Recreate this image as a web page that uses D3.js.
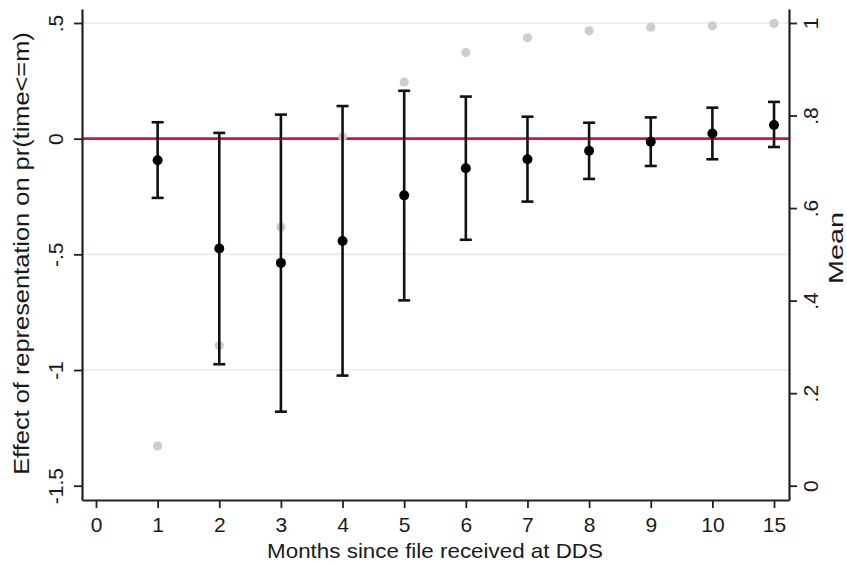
<!DOCTYPE html>
<html>
<head>
<meta charset="utf-8">
<script src="https://cdn.jsdelivr.net/npm/d3@7"></script>
<style>
  html, body { margin: 0; padding: 0; background: #fff; }
  svg { display: block; font-family: "Liberation Sans", Arial, Helvetica, sans-serif; }
</style>
</head>
<body>
<svg id="chart" width="847" height="565"></svg>
<script>
// ---- data ----
const monthLabels = ["0", "1", "2", "3", "4", "5", "6", "7", "8", "9", "10", "15"];
const months      = ["1", "2", "3", "4", "5", "6", "7", "8", "9", "10", "15"];
const estimate    = [-0.093, -0.475, -0.537, -0.442, -0.245, -0.128, -0.089, -0.052, -0.013, 0.022, 0.059];
const upperCI     = [0.071, 0.025, 0.104, 0.141, 0.207, 0.182, 0.095, 0.069, 0.092, 0.134, 0.159];
const lowerCI     = [-0.256, -0.975, -1.180, -1.024, -0.699, -0.437, -0.272, -0.174, -0.118, -0.089, -0.036];
const meanValue   = [0.086, 0.303, 0.559, 0.754, 0.872, 0.936, 0.968, 0.983, 0.991, 0.994, 0.999];
const leftTicks   = [0.5, 0, -0.5, -1, -1.5];
const leftTickLabels = [".5", "0", "-.5", "-1", "-1.5"];
const gridValues  = [0.5, -0.5, -1];
const rightTicks  = [1, 0.8, 0.6, 0.4, 0.2, 0];
const rightTickLabels = ["1", ".8", ".6", ".4", ".2", "0"];

const xTitle = "Months since file received at DDS";
const yTitle = "Effect of representation on pr(time<=m)";
const y2Title = "Mean";

// ---- layout ----
const svg = d3.select("#chart");
const L = 82, R = 789, T = 9, B = 500;

const x = d3.scaleLinear().domain([-0.227, 11.243]).range([L, R]);
const y = d3.scaleLinear().domain([-1.5618, 0.5605]).range([B, T]);
const y2 = d3.scaleLinear().domain([-0.0309, 1.03025]).range([B, T]);
const xi = m => x(monthLabels.indexOf(m));

const rows = months.map((m, i) => ({ m, est: estimate[i], lo: lowerCI[i], hi: upperCI[i], mean: meanValue[i] }));

// gridlines
svg.append("g").selectAll("line").data(gridValues).join("line")
  .attr("x1", L).attr("x2", R)
  .attr("y1", d => y(d)).attr("y2", d => y(d))
  .attr("stroke", "#e6eef1").attr("stroke-width", 1.6);

// zero reference line
svg.append("line")
  .attr("x1", L).attr("x2", R).attr("y1", y(0)).attr("y2", y(0))
  .attr("stroke", "#c8174a").attr("stroke-width", 2.6);

// mean (grey) points
svg.append("g").selectAll("circle").data(rows).join("circle")
  .attr("cx", d => xi(d.m)).attr("cy", d => y2(d.mean)).attr("r", 4.6)
  .attr("fill", "#cdcdcd");

// error bars
const eb = svg.append("g").attr("stroke", "#111").attr("stroke-width", 2.6).attr("fill", "none");
eb.selectAll("line.v").data(rows).join("line").attr("class", "v")
  .attr("x1", d => xi(d.m)).attr("x2", d => xi(d.m))
  .attr("y1", d => y(d.hi)).attr("y2", d => y(d.lo));
eb.selectAll("line.t").data(rows).join("line").attr("class", "t")
  .attr("x1", d => xi(d.m) - 6).attr("x2", d => xi(d.m) + 6)
  .attr("y1", d => y(d.hi)).attr("y2", d => y(d.hi));
eb.selectAll("line.b").data(rows).join("line").attr("class", "b")
  .attr("x1", d => xi(d.m) - 6).attr("x2", d => xi(d.m) + 6)
  .attr("y1", d => y(d.lo)).attr("y2", d => y(d.lo));

// point estimates
svg.append("g").selectAll("circle").data(rows).join("circle")
  .attr("cx", d => xi(d.m)).attr("cy", d => y(d.est)).attr("r", 5)
  .attr("fill", "#000");

// ---- axes ----
const axisColor = "#222";
function styleAxis(g) {
  g.select(".domain").attr("stroke", axisColor).attr("stroke-width", 2.2);
  g.selectAll(".tick line").attr("stroke", axisColor).attr("stroke-width", 1.8);
  g.selectAll(".tick text").attr("fill", "#1a1a1a").style("font-size", "21px");
}

// bottom axis
const xAxis = d3.axisBottom(x)
  .tickValues(d3.range(monthLabels.length))
  .tickFormat(i => monthLabels[i])
  .tickSize(8).tickSizeOuter(0).tickPadding(9);
svg.append("g").attr("transform", `translate(0,${B})`).call(xAxis).call(styleAxis);

// left axis (labels rotated)
const yAxis = d3.axisLeft(y)
  .tickValues(leftTicks)
  .tickFormat((d, i) => leftTickLabels[i])
  .tickSize(8).tickSizeOuter(0);
const gl = svg.append("g").attr("transform", `translate(${L},0)`).call(yAxis).call(styleAxis);
gl.selectAll(".tick text")
  .attr("x", 0).attr("dy", null)
  .attr("text-anchor", "middle")
  .attr("transform", "translate(-19,0) rotate(-90)");

// right axis (labels rotated)
const y2Axis = d3.axisRight(y2)
  .tickValues(rightTicks)
  .tickFormat((d, i) => rightTickLabels[i])
  .tickSize(8).tickSizeOuter(0);
const gr = svg.append("g").attr("transform", `translate(${R},0)`).call(y2Axis).call(styleAxis);
gr.selectAll(".tick text")
  .attr("x", 0).attr("dy", null)
  .attr("text-anchor", "middle")
  .attr("transform", "translate(29,0) rotate(-90)");

// ---- titles ----
function fitText(sel, target) {
  const w = sel.node().getComputedTextLength();
  return target / w;
}
const xt = svg.append("text").text(xTitle)
  .style("font-size", "20px").attr("fill", "#1a1a1a").attr("text-anchor", "middle");
const sx = fitText(xt, 336);
xt.attr("transform", `translate(435,558) scale(${sx},1)`);

const yt = svg.append("text").text(yTitle)
  .style("font-size", "21.5px").attr("fill", "#1a1a1a").attr("text-anchor", "middle");
const sy = fitText(yt, 443);
yt.attr("transform", `translate(28.5,253.5) rotate(-90) scale(${sy},1)`);

const y2t = svg.append("text").text(y2Title)
  .style("font-size", "21px").attr("fill", "#1a1a1a").attr("text-anchor", "middle");
const sy2 = fitText(y2t, 72);
y2t.attr("transform", `translate(842.5,248) rotate(-90) scale(${sy2},1)`);
</script>
</body>
</html>
